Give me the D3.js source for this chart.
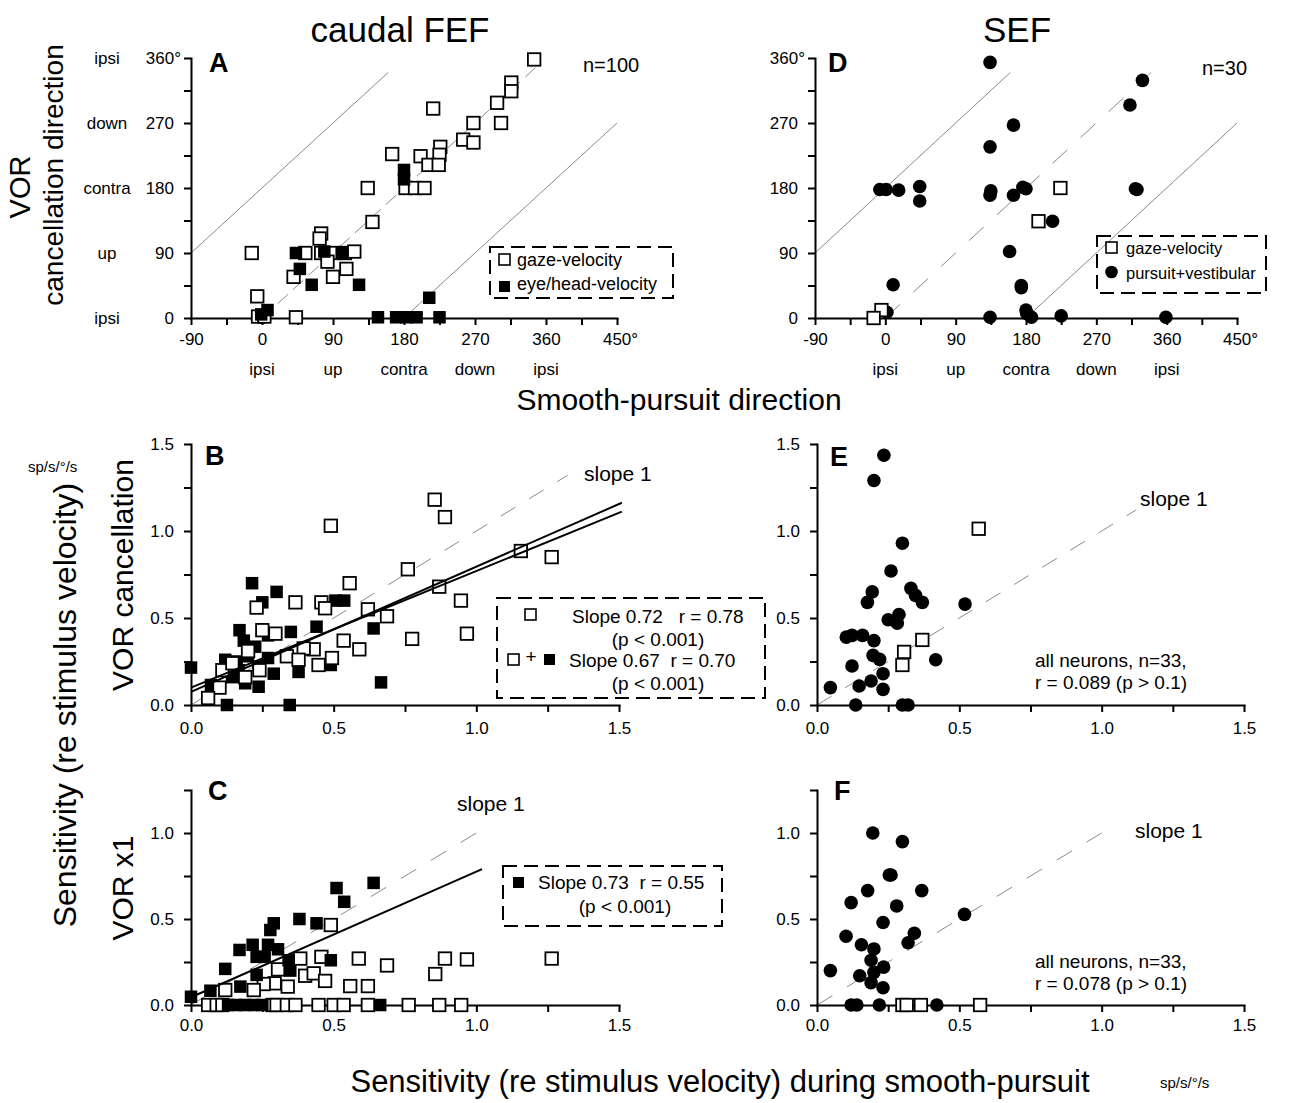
<!DOCTYPE html>
<html>
<head>
<meta charset="utf-8">
<script src="https://cdn.jsdelivr.net/npm/d3@7"></script>
<style>
body { margin: 0; background: #fff; }
svg { font-family: "Liberation Sans", Arial, Helvetica, sans-serif; }
.axis path, .axis line { stroke: #000; stroke-width: 2; }
.axis text { font-size: 17px; fill: #000; font-family: "Liberation Sans", Arial, sans-serif; }
</style>
</head>
<body>
<svg id="fig" width="1303" height="1103"></svg>
<script>
// ---------------- data ----------------
// A: caudal FEF  [smooth-pursuit dir, VOR cancellation dir] (deg)
var fefDirGaze = [[345,358],[316,326],[316,314],[298,298],[303,270],[268,270],[255,247],[268,243],
    [217,290],[226,237],[225,226],[201,224],[211,212],[224,212],[165,227],[134,180],[182,180],
    [194,180],[206,180],[140,133],[75,117],[73,110],[-13,90],[55,90],[75,90],[92,90],[105,90],
    [117,92],[83,78],[107,68],[90,57],[40,57],[-6,30],[-5,2],[3,2],[43,1]];
var fefDirEyeHead = [[180,205],[180,192],[43,90],[79,92],[101,90],[48,68],[63,46],[123,46],
    [7,11],[-1,5],[147,1],[170,1],[183,1],[196,1],[212,28],[225,1]];
// D: SEF
var sefDirGaze = [[224,180],[196,134],[-5,11],[-15,0]];
var sefDirPursVest = [[134,354],[329,329],[313,295],[164,267],[134,237],[-7,178],[1,178],[17,177],
    [44,182],[44,162],[135,176],[134,170],[164,170],[176,181],[180,179],[320,179],[322,178],
    [214,134],[159,92],[10,46],[174,45],[174,42],[2,8],[134,1],[180,11],[181,6],[187,1],[225,3],[359,1]];

// B: FEF  [pursuit sensitivity, VOR cancellation sensitivity] (sp/s/deg/s)
var fefCancOpen = [[0.854,1.18],[0.89,1.08],[0.49,1.03],[0.76,0.78],[0.87,0.68],[0.556,0.70],
    [0.946,0.60],[0.967,0.41],[0.775,0.38],[0.366,0.59],[0.457,0.59],[0.47,0.556],[0.23,0.56],
    [0.62,0.55],[0.687,0.51],[0.535,0.37],[0.59,0.32],[0.43,0.32],[0.395,0.325],[0.447,0.23],
    [0.494,0.27],[0.336,0.28],[0.377,0.26],[0.25,0.43],[0.296,0.41],[0.2,0.31],[0.24,0.2],
    [0.11,0.2],[0.10,0.10],[0.06,0.04],[0.19,0.16],[0.145,0.24],[1.156,0.885],[1.264,0.85]];
var fefCancFilled = [[0.214,0.70],[0.30,0.65],[0.25,0.59],[0.506,0.60],[0.537,0.60],[0.44,0.45],
    [0.64,0.44],[0.35,0.42],[0.17,0.43],[0.27,0.40],[0.185,0.37],[0.225,0.335],[0.12,0.26],
    [0.16,0.25],[0.2,0.28],[0.27,0.27],[0.29,0.18],[0.377,0.19],[0.49,0.23],[0.666,0.13],
    [0.0,0.215],[0.07,0.115],[0.126,0.0],[0.346,0.0],[0.144,0.16],[0.19,0.125],[0.237,0.105],
    [0.167,0.2],[0.237,0.22]];
var fefCancFits = [{slope: 0.72, icpt: 0.075}, {slope: 0.67, icpt: 0.10}];

// C: FEF  [pursuit sensitivity, VOR x1 sensitivity]
var fefX1Open = [[0.49,0.465],[0.383,0.27],[0.457,0.28],[0.588,0.27],[0.687,0.23],[0.89,0.27],
    [0.967,0.265],[0.856,0.18],[0.40,0.17],[0.43,0.184],[0.47,0.14],[0.558,0.11],[0.62,0.11],
    [0.339,0.107],[0.305,0.207],[0.293,0.126],[0.255,0.122],[0.22,0.087],[0.12,0.087],[1.264,0.27],
    [0.06,0],[0.09,0],[0.11,0],[0.286,0],[0.30,0],[0.336,0],[0.366,0],[0.447,0],[0.50,0],
    [0.535,0],[0.62,0],[0.763,0],[0.87,0],[0.947,0]];
var fefX1Filled = [[0.64,0.71],[0.51,0.68],[0.537,0.60],[0.38,0.50],[0.44,0.475],[0.29,0.475],
    [0.278,0.436],[0.216,0.35],[0.17,0.32],[0.27,0.35],[0.305,0.324],[0.23,0.28],[0.258,0.28],
    [0.342,0.26],[0.348,0.2],[0.49,0.26],[0.12,0.21],[0.23,0.175],[0.173,0.107],[0.068,0.083],
    [0.0,0.048],[0.663,0],[0.13,0],[0.16,0],[0.19,0],[0.22,0],[0.25,0]];
var fefX1Fit = {slope: 0.73, icpt: 0.045, xEnd: 1.02};

// E: SEF  [pursuit sensitivity, VOR cancellation sensitivity]
var sefCancOpen = [[0.568,1.013],[0.37,0.374],[0.306,0.305],[0.30,0.23]];
var sefCancFilled = [[0.235,1.435],[0.2,1.29],[0.30,0.93],[0.26,0.77],[0.194,0.65],[0.177,0.59],
    [0.33,0.67],[0.346,0.63],[0.37,0.59],[0.52,0.58],[0.25,0.49],[0.288,0.52],[0.282,0.47],
    [0.103,0.39],[0.123,0.40],[0.16,0.40],[0.2,0.37],[0.197,0.285],[0.22,0.262],[0.417,0.26],
    [0.123,0.224],[0.232,0.18],[0.19,0.138],[0.148,0.109],[0.047,0.10],[0.232,0.09],[0.136,0],
    [0.30,0],[0.32,0]];

// F: SEF  [pursuit sensitivity, VOR x1 sensitivity]
var sefX1Open = [[0.30,0],[0.315,0],[0.365,0],[0.573,0]];
var sefX1Filled = [[0.196,1.0],[0.30,0.95],[0.254,0.756],[0.26,0.756],[0.178,0.665],[0.368,0.665],
    [0.12,0.595],[0.28,0.576],[0.518,0.527],[0.232,0.48],[0.102,0.40],[0.342,0.417],[0.32,0.362],
    [0.156,0.35],[0.2,0.326],[0.19,0.26],[0.234,0.22],[0.2,0.19],[0.047,0.20],[0.15,0.17],
    [0.19,0.13],[0.232,0.10],[0.12,0],[0.14,0],[0.219,0],[0.421,0]];

// axes / labels
var dirTicks = [-90, -45, 0, 45, 90, 135, 180, 225, 270, 315, 360, 405, 450];
var dirLabelled = [-90, 0, 90, 180, 270, 360, 450];
var dirNames = [[0, "ipsi"], [90, "up"], [180, "contra"], [270, "down"], [360, "ipsi"]];
var sensTicks15 = [0, 0.25, 0.5, 0.75, 1.0, 1.25, 1.5];
var sensTicks125 = [0, 0.25, 0.5, 0.75, 1.0, 1.25];
var sensLabelled = [0, 0.5, 1.0, 1.5];
// guide lines of the direction plots: y = x + offset, drawn over [from, to]
var dirGuides = [{offset: 180, from: -90, to: 160, dashed: false},
                 {offset: 0, from: 0, to: 348, dashed: true},
                 {offset: -180, from: 180, to: 450, dashed: false}];

var svg = d3.select("#fig");

function makePanel(xd, xr, yd, yr) {
    var x = d3.scaleLinear().domain(xd).range(xr);
    var y = d3.scaleLinear().domain(yd).range(yr);
    return {x: x, y: y, g: svg.append("g")};
}

function drawAxes(p, xTicks, xFmt, xPad, yTicks, yFmt) {
    var xa = d3.axisBottom(p.x).tickValues(xTicks).tickSize(7).tickSizeOuter(0)
        .tickPadding(xPad).tickFormat(xFmt);
    var ya = d3.axisLeft(p.y).tickValues(yTicks).tickSize(7).tickSizeOuter(0)
        .tickPadding(10).tickFormat(yFmt);
    var gx = p.g.append("g").attr("class", "axis")
        .attr("transform", "translate(0," + p.y.range()[0] + ")").call(xa);
    var gy = p.g.append("g").attr("class", "axis")
        .attr("transform", "translate(" + p.x.range()[0] + ",0)").call(ya);
    gx.select(".domain").attr("stroke-linecap", "square");
    gy.select(".domain").attr("stroke-linecap", "square");
    return {gx: gx, gy: gy};
}

function squares(p, data, filled, size) {
    p.g.append("g").selectAll("rect").data(data).join("rect")
        .attr("x", d => p.x(d[0]) - size / 2)
        .attr("y", d => p.y(d[1]) - size / 2)
        .attr("width", size).attr("height", size)
        .attr("fill", filled ? "#000" : "#fff")
        .attr("stroke", "#000").attr("stroke-width", filled ? 0 : 1.8);
}

function circles(p, data, r) {
    p.g.append("g").selectAll("circle").data(data).join("circle")
        .attr("cx", d => p.x(d[0])).attr("cy", d => p.y(d[1])).attr("r", r)
        .attr("fill", "#000");
}

function line(p, x0, y0, x1, y1, stroke, width, dash) {
    p.g.append("line")
        .attr("x1", p.x(x0)).attr("y1", p.y(y0))
        .attr("x2", p.x(x1)).attr("y2", p.y(y1))
        .attr("stroke", stroke).attr("stroke-width", width)
        .attr("stroke-dasharray", dash || null);
}

function text(x, y, str, size, opts) {
    opts = opts || {};
    var t = svg.append("text").attr("x", x).attr("y", y).text(str)
        .attr("font-size", size).attr("fill", "#000")
        .attr("text-anchor", opts.anchor || "start")
        .style("white-space", "pre");
    if (opts.bold) t.attr("font-weight", "bold");
    if (opts.rotate) t.attr("transform", "rotate(-90," + x + "," + y + ")");
    return t;
}

function dashedBox(x0, y0, x1, y1) {
    svg.append("rect").attr("x", x0).attr("y", y0)
        .attr("width", x1 - x0).attr("height", y1 - y0)
        .attr("fill", "none").attr("stroke", "#000").attr("stroke-width", 2)
        .attr("stroke-dasharray", "14,7");
}

// ---------------- direction panels (A, D) ----------------
function dirFmtX(d) { return dirLabelled.includes(d) ? (d === 450 ? "450°" : d) : ""; }
function dirFmtY(d) { return d % 90 === 0 ? (d === 360 ? "360°" : d) : ""; }

function dirPanel(xr, dashA) {
    var p = makePanel([-90, 450], xr, [0, 360], [318, 58]);
    dirGuides.forEach(function (gl) {
        line(p, gl.from, gl.from + gl.offset, gl.to, gl.to + gl.offset, "#8a8a8a", 1,
            gl.dashed ? dashA : null);
    });
    var ax = drawAxes(p, dirTicks, dirFmtX, 8, d3.range(0, 361, 45), dirFmtY);
    ax.gy.selectAll(".tick text").filter(d => d === 360).attr("dx", 7);
    ax.gx.selectAll(".tick text").filter(d => d === 450).attr("dx", 3);
    dirNames.forEach(function (n) {
        text(p.x(n[0]), 375, n[1], 17, {anchor: "middle"});
    });
    return p;
}

var pA = dirPanel([191, 617], "14,7");
squares(pA, fefDirGaze, false, 12.5);
squares(pA, fefDirEyeHead, true, 12.5);
dirNames.forEach(function (n) {
    text(107, pA.y(n[0]) + 6, n[1], 17, {anchor: "middle"});
});

var pD = dirPanel([815, 1237], "20,18");
circles(pD, sefDirPursVest, 6.8);
squares(pD, sefDirGaze, false, 12.5);

// ---------------- sensitivity panels (B, C, E, F) ----------------
function sensFmt(d) { return sensLabelled.includes(d) ? d.toFixed(1) : ""; }

var pB = makePanel([0, 1.5], [191, 619], [0, 1.5], [705, 444]);
line(pB, 0, 0, 1.32, 1.32, "#8a8a8a", 1, "17,16");
drawAxes(pB, sensTicks15, sensFmt, 10, sensTicks15, sensFmt);
squares(pB, fefCancFilled, true, 12.5);
squares(pB, fefCancOpen, false, 12.5);
fefCancFits.forEach(function (f) {
    line(pB, 0, f.icpt, 1.51, f.icpt + f.slope * 1.51, "#000", 2);
});

var pC = makePanel([0, 1.5], [191, 619], [0, 1.25], [1005, 790]);
line(pC, 0, 0, 1.0, 1.0, "#8a8a8a", 1, "18,17");
drawAxes(pC, sensTicks15, sensFmt, 7, sensTicks125, sensFmt);
squares(pC, fefX1Open, false, 12.5);
squares(pC, fefX1Filled, true, 12.5);
line(pC, 0, fefX1Fit.icpt, fefX1Fit.xEnd, fefX1Fit.icpt + fefX1Fit.slope * fefX1Fit.xEnd, "#000", 2);

var pE = makePanel([0, 1.5], [817, 1244], [0, 1.5], [705, 444]);
line(pE, 0, 0, 1.12, 1.12, "#8a8a8a", 1, "17,16");
drawAxes(pE, sensTicks15, sensFmt, 10, sensTicks15, sensFmt);
circles(pE, sefCancFilled, 6.8);
squares(pE, sefCancOpen, false, 12.5);

var pF = makePanel([0, 1.5], [817, 1244], [0, 1.25], [1005, 790]);
line(pF, 0, 0, 1.0, 1.0, "#8a8a8a", 1, "18,17");
drawAxes(pF, sensTicks15, sensFmt, 7, sensTicks125, sensFmt);
circles(pF, sefX1Filled, 6.8);
squares(pF, sefX1Open, false, 12.5);

// ---------------- panel letters, titles, annotations ----------------
text(400, 42, "caudal FEF", 35, {anchor: "middle"});
text(1017, 42, "SEF", 35, {anchor: "middle"});
text(209, 72, "A", 27, {bold: true});
text(828, 72, "D", 27, {bold: true});
text(205, 465, "B", 27, {bold: true});
text(830, 466, "E", 27, {bold: true});
text(208, 800, "C", 27, {bold: true});
text(834, 800, "F", 27, {bold: true});

text(583, 72, "n=100", 20);
text(1202, 75, "n=30", 20);

// legends A and D
dashedBox(490, 247, 673, 298);
svg.append("rect").attr("x", 499).attr("y", 254).attr("width", 11).attr("height", 11)
    .attr("fill", "#fff").attr("stroke", "#000").attr("stroke-width", 1.6);
svg.append("rect").attr("x", 499).attr("y", 281).attr("width", 11).attr("height", 11).attr("fill", "#000");
text(517, 266, "gaze-velocity", 18);
text(517, 290, "eye/head-velocity", 18);

dashedBox(1097, 236, 1266, 293);
svg.append("rect").attr("x", 1106).attr("y", 242).attr("width", 11).attr("height", 11)
    .attr("fill", "#fff").attr("stroke", "#000").attr("stroke-width", 1.6);
svg.append("circle").attr("cx", 1111.5).attr("cy", 272).attr("r", 6.3).attr("fill", "#000");
text(1126, 254, "gaze-velocity", 16.5);
text(1126, 279, "pursuit+vestibular", 16.5);

// legend B
dashedBox(497, 598, 765, 698);
svg.append("rect").attr("x", 525).attr("y", 609).attr("width", 11).attr("height", 11)
    .attr("fill", "#fff").attr("stroke", "#000").attr("stroke-width", 1.6);
text(572, 623, "Slope 0.72   r = 0.78", 19);
text(658, 646, "(p < 0.001)", 19, {anchor: "middle"});
svg.append("rect").attr("x", 508).attr("y", 654).attr("width", 11).attr("height", 11)
    .attr("fill", "#fff").attr("stroke", "#000").attr("stroke-width", 1.6);
text(531, 663, "+", 19, {anchor: "middle"});
svg.append("rect").attr("x", 544).attr("y", 654).attr("width", 11).attr("height", 11).attr("fill", "#000");
text(569, 667, "Slope 0.67  r = 0.70", 19);
text(658, 690, "(p < 0.001)", 19, {anchor: "middle"});

// legend C
dashedBox(503, 866, 722, 926);
svg.append("rect").attr("x", 513).attr("y", 877).attr("width", 11).attr("height", 11).attr("fill", "#000");
text(538, 889, "Slope 0.73  r = 0.55", 19);
text(625, 913, "(p < 0.001)", 19, {anchor: "middle"});

text(584, 481, "slope 1", 21);
text(457, 811, "slope 1", 21);
text(1140, 506, "slope 1", 21);
text(1135, 838, "slope 1", 21);

text(1035, 667, "all neurons, n=33,", 19);
text(1035, 689, "r = 0.089 (p > 0.1)", 19);
text(1035, 968, "all neurons, n=33,", 19);
text(1035, 990, "r = 0.078 (p > 0.1)", 19);

// axis titles
text(30, 187, "VOR", 29, {anchor: "middle", rotate: true});
text(63, 175, "cancellation direction", 28, {anchor: "middle", rotate: true});
text(679, 410, "Smooth-pursuit direction", 30, {anchor: "middle"});
text(133, 575, "VOR cancellation", 30, {anchor: "middle", rotate: true});
text(133, 888, "VOR x1", 30, {anchor: "middle", rotate: true});
text(76, 705, "Sensitivity (re stimulus velocity)", 32, {anchor: "middle", rotate: true});
text(720, 1092, "Sensitivity (re stimulus velocity) during smooth-pursuit", 31, {anchor: "middle"});
text(28, 472, "sp/s/°/s", 15);
text(1160, 1088, "sp/s/°/s", 15);
</script>
</body>
</html>
